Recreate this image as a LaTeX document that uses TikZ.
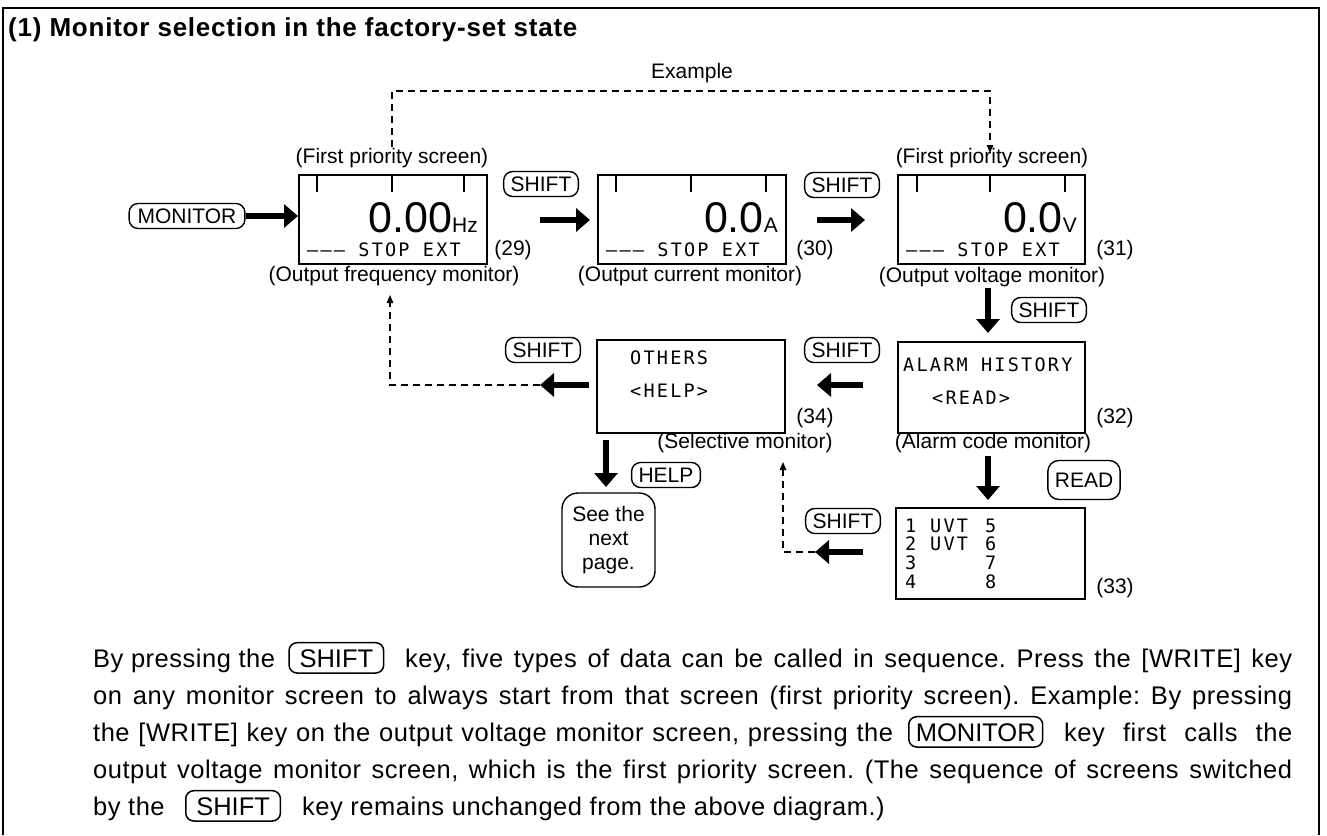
\documentclass[tikz,border=0pt]{standalone}
\usepackage{fontspec}
\setmainfont{Liberation Sans}
\newfontfamily\lcdfont[LetterSpace=12]{DejaVu Sans Mono}
\newfontfamily\titlefont[LetterSpace=3]{Liberation Sans}
\newfontfamily\bodyfont[LetterSpace=2]{Liberation Sans}
\usetikzlibrary{arrows.meta}
\newcommand\fsz[1]{\fontsize{#1}{#1}\selectfont}
\frenchspacing
\begin{document}
\begin{tikzpicture}[x=1pt,y=-1pt,
  screen/.style={draw,line width=1.8pt,inner sep=0pt,anchor=north west},
  tickmark/.style={line width=1.6pt},
  key/.style={draw,line width=1.4pt,rounded corners=9pt,font=\fsz{21},inner xsep=7pt,inner ysep=5pt,text height=15pt,text depth=0pt},
  bkey/.style={draw,line width=1.5pt,rounded corners=8pt,font=\fsz{25.5},inner xsep=10.5pt,inner ysep=6pt,text height=18.3pt,text depth=0pt,anchor=base west},
  btxt/.style={font=\bodyfont\fsz{25.5}\frenchspacing,inner sep=0pt,anchor=base west},
  lab/.style={font=\fsz{21},inner sep=0pt},
  lcd/.style={font=\lcdfont\fsz{18.5},inner sep=0pt,anchor=base west},
  big/.style={line width=6.5pt,-{Triangle[length=14pt,width=23pt]}},
  dline/.style={line width=1.4pt,dash pattern=on 7pt off 5pt},
  small/.style={-{Triangle[length=8pt,width=6.5pt]}}
]
\useasboundingbox (0,0) rectangle (1327,835);
% frame
\draw[line width=1.8pt] (3,835) -- (3,8) -- (1319,8) -- (1319,835);
\node[anchor=base west,inner sep=0pt,font=\titlefont\bfseries\fsz{26}] (title) at (8,36) {(1) Monitor selection in the factory-set state};

% example dashed path
\node[lab] (ex) at (692,73) {Example};
\coordinate (exA) at (392,147);
\coordinate (exB) at (990,153);
\draw[dline,small] (exA) -- (392,91) -- (990,91) -- (exB);

% screen 29
\node[lab] (fp29) at (392,158) {(First priority screen)};
\node[screen,minimum width=188pt,minimum height=89pt] (s29) at (298,174) {};
\foreach \dx in {19,94,166} \draw[tickmark] ([xshift=\dx pt]s29.north west) -- ++(0,18);
\node[anchor=base east,inner sep=0pt] (v29) at (478,232) {{\fsz{43}0.00}{\fsz{21}Hz}};
\node[lcd] (r29) at (307,256) {––– STOP EXT};
\node[lab] (n29) at (513,250) {(29)};
\node[lab] (ol29) at (394,276) {(Output frequency monitor)};

\node[key,inner xsep=8.5pt] (kmon) at (187,216) {MONITOR};
\draw[big] (kmon.east) -- (kmon.east -| s29.west);

% screen 30
\node[key] (k1) at (541,184) {SHIFT};
\coordinate (a1s) at (540,220); \coordinate (a1e) at (590,220);
\draw[big] (a1s) -- (a1e);
\node[screen,minimum width=188pt,minimum height=89pt] (s30) at (597,174) {};
\foreach \dx in {19,94,169} \draw[tickmark] ([xshift=\dx pt]s30.north west) -- ++(0,18);
\node[anchor=base east,inner sep=0pt] (v30) at (778,232) {{\fsz{43}0.0}{\fsz{21}A}};
\node[lcd] (r30) at (606,256) {––– STOP EXT};
\node[lab] (n30) at (815,250) {(30)};
\node[lab] (ol30) at (690,276) {(Output current monitor)};

% screen 31
\node[key] (k2) at (842,185) {SHIFT};
\coordinate (a2s) at (817,220); \coordinate (a2e) at (865,220);
\draw[big] (a2s) -- (a2e);
\node[lab] (fp31) at (992,158) {(First priority screen)};
\node[screen,minimum width=187pt,minimum height=89pt] (s31) at (897,174) {};
\foreach \dx in {20,93,168} \draw[tickmark] ([xshift=\dx pt]s31.north west) -- ++(0,18);
\node[anchor=base east,inner sep=0pt] (v31) at (1077,232) {{\fsz{43}0.0}{\fsz{21}V}};
\node[lcd] (r31) at (906,256) {––– STOP EXT};
\node[lab] (n31) at (1115,250) {(31)};
\node[lab] (ol31) at (992,277) {(Output voltage monitor)};

% down to 32
\coordinate (d1s) at (988,288); \coordinate (d1e) at (988,333);
\draw[big] (d1s) -- (d1e);
\node[key] (k3) at (1049,310) {SHIFT};

% screen 32
\node[screen,minimum width=187pt,minimum height=91pt] (s32) at (897,341) {};
\node[lcd] (t32a) at (903,371) {ALARM HISTORY};
\node[lcd] (t32b) at (932,404) {<READ>};
\node[lab] (n32) at (1115,418) {(32)};
\node[lab] (ol32) at (993,443) {(Alarm code monitor)};

% down to 33
\coordinate (d2s) at (988,456); \coordinate (d2e) at (988,500);
\draw[big] (d2s) -- (d2e);
\node[key,inner ysep=12pt,rounded corners=11pt] (kread) at (1084,480) {READ};

% screen 33
\node[screen,minimum width=189pt,minimum height=91pt] (s33) at (895,507) {};
\node[lcd] (t33a) at (905,532) {1};
\node[lcd] (t33b) at (930,532) {UVT};
\node[lcd] (t33c) at (985,532) {5};
\node[lcd] (t33d) at (905,550) {2};
\node[lcd] (t33e) at (930,550) {UVT};
\node[lcd] (t33f) at (985,550) {6};
\node[lcd] (t33g) at (905,569) {3};
\node[lcd] (t33h) at (985,569) {7};
\node[lcd] (t33i) at (905,588) {4};
\node[lcd] (t33j) at (985,588) {8};
\node[lab] (n33) at (1115,588) {(33)};

% from 33 back to 34
\node[key] (k5) at (843,521) {SHIFT};
\coordinate (a5s) at (863,552); \coordinate (a5e) at (815,552);
\draw[big] (a5s) -- (a5e);
\coordinate (u2) at (783,462);
\draw[dline,small] (a5e) -- (783,552) -- (u2);

% screen 34
\node[screen,minimum width=188pt,minimum height=93pt] (s34) at (596,339) {};
\node[lcd] (t34a) at (630,364) {OTHERS};
\node[lcd] (t34b) at (630,397) {<HELP>};
\node[lab] (n34) at (815,418) {(34)};
\node[lab] (ol34) at (745,443) {(Selective monitor)};

\node[key] (k4) at (842,350) {SHIFT};
\coordinate (a4s) at (863,385); \coordinate (a4e) at (817,385);
\draw[big] (a4s) -- (a4e);

\node[key] (k6) at (543,350) {SHIFT};
\coordinate (a6s) at (589,385); \coordinate (a6e) at (540,385);
\draw[big] (a6s) -- (a6e);
\coordinate (u1) at (390,295);
\draw[dline,small] (a6e) -- (390,385) -- (u1);

% help
\coordinate (d3s) at (606,440); \coordinate (d3e) at (606,487);
\draw[big] (d3s) -- (d3e);
\node[key] (khelp) at (666,475) {HELP};
\node[draw,line width=1.4pt,rounded corners=16pt,minimum width=93pt,minimum height=94pt,align=center,inner sep=0pt,font=\fontsize{21}{24}\selectfont] (snp) at (608.5,540) {See the\\next\\page.};

% body text (justified to x = 1292)
\node[btxt] (b1a) at (93,667) {By pressing the};
\node[bkey] (b1k) at ([xshift=13pt]b1a.base east) {SHIFT};
\node[btxt] (b1b) at (405,667) {\hbox to 887pt{key, five types of data can be called in sequence. Press the [WRITE] key}};
\node[btxt] (b2) at (93,704) {\hbox to 1199pt{on any monitor screen to always start from that screen (first priority screen). Example: By pressing}};
\node[btxt] (b3a) at (93,741) {\hbox to 800pt{the [WRITE] key on the output voltage monitor screen, pressing the}};
\node[bkey,inner xsep=7pt] (b3k) at (908,741) {MONITOR};
\node[btxt] (b3b) at (1064,741) {\hbox to 228pt{key first calls the}};
\node[btxt] (b4) at (93,778) {\hbox to 1199pt{output voltage monitor screen, which is the first priority screen. (The sequence of screens switched}};
\node[btxt] (b5a) at (93,815) {by the};
\node[bkey] (b5k) at (185,815) {SHIFT};
\node[btxt] (b5b) at (302,815) {key remains unchanged from the above diagram.)};
\end{tikzpicture}
\end{document}
